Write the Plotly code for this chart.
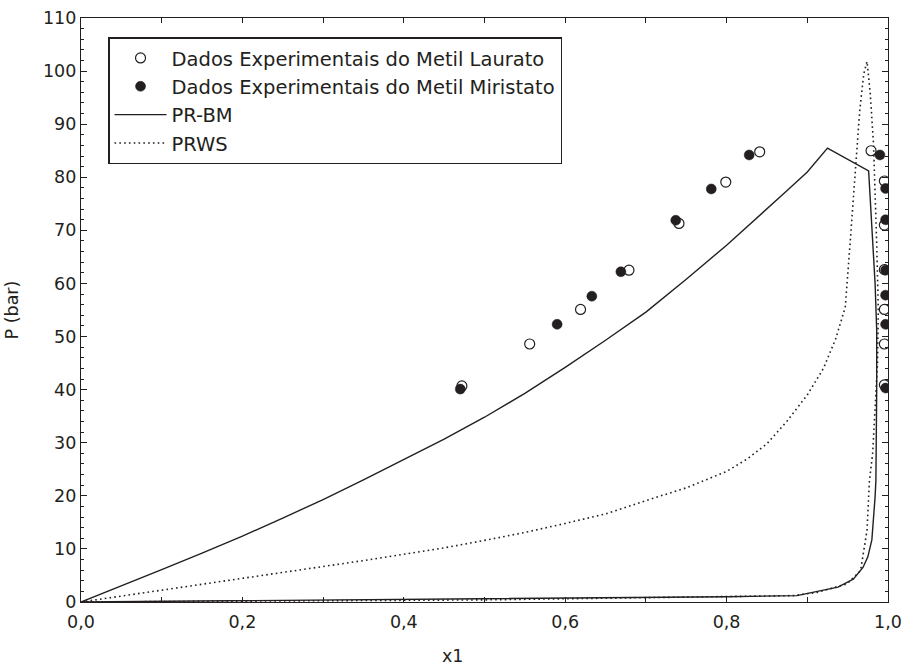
import plotly.graph_objects as go

# Experimental data
laurato_x = [0.472, 0.556, 0.619, 0.679, 0.741, 0.799, 0.841,
             0.979, 0.9955, 0.9955, 0.9955, 0.9955, 0.9955, 0.9955]
laurato_p = [40.7, 48.6, 55.1, 62.5, 71.3, 79.1, 84.8,
             85.0, 79.3, 71.0, 62.6, 55.1, 48.6, 40.9]

miristato_x = [0.470, 0.590, 0.633, 0.669, 0.737, 0.781, 0.828,
               0.990, 0.997, 0.997, 0.997, 0.997, 0.997, 0.997]
miristato_p = [40.1, 52.3, 57.6, 62.2, 71.9, 77.8, 84.2,
               84.2, 77.9, 72.0, 62.5, 57.8, 52.3, 40.3]

# PR-BM model (bubble branch then dew branch)
prbm_x = [0.0, 0.05, 0.1, 0.15, 0.2, 0.25, 0.3, 0.35, 0.4, 0.45, 0.5, 0.55, 0.6,
          0.65, 0.7, 0.75, 0.8, 0.85, 0.875, 0.9, 0.925,
          0.976, 0.980, 0.984, 0.986, 0.986, 0.985, 0.984, 0.980, 0.975, 0.969,
          0.957, 0.938, 0.887, 0.8, 0.5, 0.0]
prbm_p = [0.0, 3.0, 6.1, 9.2, 12.4, 15.8, 19.3, 23.0, 26.8, 30.7, 34.8, 39.3, 44.2,
          49.3, 54.6, 60.8, 67.2, 74.0, 77.5, 81.0, 85.5,
          81.2, 70.0, 60.0, 51.2, 40.0, 22.9, 19.8, 11.7, 8.5, 6.5,
          4.3, 2.8, 1.2, 1.0, 0.6, 0.0]

# PRWS model (bubble branch then dew branch)
prws_x = [0.0, 0.05, 0.1, 0.15, 0.2, 0.25, 0.3, 0.35, 0.4, 0.45, 0.5, 0.55, 0.6,
          0.65, 0.7, 0.75, 0.8, 0.825, 0.85, 0.875, 0.9, 0.92, 0.935, 0.947,
          0.953, 0.961, 0.965, 0.970, 0.974, 0.978, 0.982, 0.986, 0.988, 0.987,
          0.984, 0.981, 0.977, 0.974, 0.966, 0.949, 0.912, 0.882, 0.5, 0.0]
prws_p = [0.0, 1.1, 2.2, 3.3, 4.4, 5.5, 6.6, 7.8, 9.0, 10.2, 11.6, 13.1, 14.8,
          16.6, 19.1, 21.5, 24.6, 26.9, 29.8, 34.1, 39.0, 44.0, 49.5, 55.5,
          67.5, 83.2, 92.6, 99.5, 101.8, 95.8, 86.4, 67.5, 55.0, 45.0,
          35.0, 28.0, 22.9, 13.5, 5.9, 3.4, 1.8, 1.2, 0.4, 0.0]

x_ticks = [0.0, 0.1, 0.2, 0.3, 0.4, 0.5, 0.6, 0.7, 0.8, 0.9, 1.0]
x_labels = ["0,0", "", "0,2", "", "0,4", "", "0,6", "", "0,8", "", "1,0"]
y_ticks = list(range(0, 111, 10))

FONT = "DejaVu Sans, Liberation Sans, sans-serif"
INK = "#231f20"

fig = go.Figure()
fig.add_trace(go.Scatter(x=laurato_x, y=laurato_p, mode="markers",
                         name="Dados Experimentais do Metil Laurato",
                         marker=dict(symbol="circle", size=10, color="white",
                                     line=dict(color=INK, width=1.2))))
fig.add_trace(go.Scatter(x=miristato_x, y=miristato_p, mode="markers",
                         name="Dados Experimentais do Metil Miristato",
                         marker=dict(symbol="circle", size=10, color=INK,
                                     line=dict(color=INK, width=0.5))))
fig.add_trace(go.Scatter(x=prbm_x, y=prbm_p, mode="lines", name="PR-BM",
                         line=dict(color=INK, width=1.4)))
fig.add_trace(go.Scatter(x=prws_x, y=prws_p, mode="lines", name="PRWS",
                         line=dict(color=INK, width=1.6, dash="1.6px,3.2px")))

axis_common = dict(showgrid=False, zeroline=False, showline=True, linecolor=INK,
                   linewidth=1.4, mirror="ticks", ticks="inside", tickcolor=INK,
                   automargin=False,
                   tickfont=dict(family=FONT, size=17.5, color=INK))

fig.update_xaxes(range=[0, 1], tickvals=x_ticks, ticktext=x_labels, ticklen=5,
                 tickwidth=1, ticklabelstandoff=4, **axis_common)
fig.update_yaxes(range=[0, 110], tickvals=y_ticks, ticklen=6, tickwidth=1,
                 ticksuffix="\u2002",
                 minor=dict(dtick=2, ticklen=3, tickcolor=INK, ticks="inside"),
                 **axis_common)

fig.update_layout(
    width=904, height=669,
    margin=dict(l=81, r=16, t=18, b=67),
    paper_bgcolor="white", plot_bgcolor="white",
    showlegend=True,
    legend=dict(x=0.0335, y=0.967, xanchor="left", yanchor="top",
                bgcolor="white", bordercolor=INK, borderwidth=1.5,
                font=dict(family=FONT, size=19.5, color=INK),
                tracegroupgap=0, itemwidth=52),
    annotations=[
        dict(text="x1", x=0.461, y=-0.092, xref="paper", yref="paper",
             showarrow=False, xanchor="center", yanchor="middle",
             font=dict(family=FONT, size=17.5, color=INK)),
        dict(text="P (bar)", x=-0.085, y=0.5, xref="paper", yref="paper",
             showarrow=False, textangle=-90, xanchor="center", yanchor="middle",
             font=dict(family=FONT, size=17.5, color=INK)),
    ],
)

fig.write_html("out.html")
